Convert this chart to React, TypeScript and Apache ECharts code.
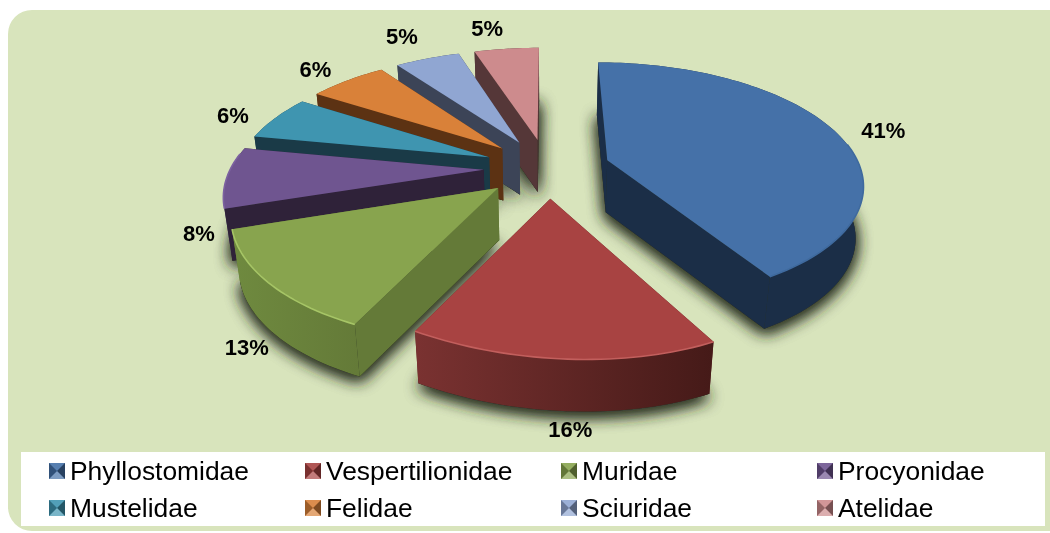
import React, { useEffect, useRef } from "react";
import * as echarts from "echarts";

const families = ["Phyllostomidae", "Vespertilionidae", "Muridae", "Procyonidae", "Mustelidae", "Felidae", "Sciuridae", "Atelidae"];
const shares = [41.4, 15.6, 13, 8, 6, 6, 5, 5];
const topColors = ["#4571a8", "#a84342", "#88a44e", "#6f5590", "#3f95b0", "#d98139", "#90a6d2", "#cd8b8d"];
const wallColors = ["#1b2e47", "#5a2221", "#647a38", "#2f2239", "#1a3a47", "#5c3213", "#3c4457", "#553738"];
const rimLeft = ["#1b2e47", "#7a3231", "#6f8a3f", "#43335f", "#1f4656", "#5c3213", "#3c4457", "#553738"];
const rimRight = ["#1b2e47", "#451a18", "#647a38", "#2f2239", "#1a3a47", "#5c3213", "#3c4457", "#553738"];
const edgeColors = ["#3f6a9e", "#c25f5d", "#a6c566", "#7c62a0", "#3f95b0", "#d98139", "#90a6d2", "#cd8b8d"];
const sliceShear = [0, 0.065, 0, 0, 0, 0, 0, 0];
const labelNudge = [[16, 4], [1, 8], [4, 8], [6, 10], [-11, 4], [-7, 1], [-10, -6], [-14, -3]];
const legendColumns = [49, 305, 561, 817];
const legendRows = [458, 495];

const FONT = "'Liberation Sans', Arial, sans-serif";
const CX = 547, CY = 168, RX = 253, RY = 118, P = 0.18, EXPLODE = 0.25, DEPTH = 52, SHRINK = 0.975;
const rad = (d: number) => (d * Math.PI) / 180;
const project = (u: number, v: number): [number, number] => {
  const w = 1 / (1 + P * v);
  return [CX + RX * u * w, CY - RY * v * w];
};
const lower = (p: [number, number]): [number, number] => [CX + (p[0] - CX) * SHRINK, p[1] + DEPTH];

const total = shares.reduce((a, b) => a + b, 0);
let running = 0;
const slices = shares.map((s, i) => {
  const a0 = (running / total) * 360;
  running += s;
  const a1 = (running / total) * 360;
  const mid = (a0 + a1) / 2;
  const ou = EXPLODE * Math.sin(rad(mid));
  const ov = EXPLODE * Math.cos(rad(mid));
  const tip = project(ou, ov);
  const arc: [number, number][] = [];
  const n = Math.max(8, Math.ceil((a1 - a0) / 1.5));
  const ang: number[] = [];
  for (let k = 0; k <= n; k++) {
    const a = a0 + ((a1 - a0) * k) / n;
    ang.push(a);
    const p = project(ou + Math.sin(rad(a)), ov + Math.cos(rad(a)));
    arc.push([p[0], p[1] + (p[0] - tip[0]) * sliceShear[i]]);
  }
  const mp = project(ou + Math.sin(rad(mid)), ov + Math.cos(rad(mid)));
  const c = Math.cos(rad(mid));
  const label: [number, number] = [
    mp[0] + 34 * Math.sin(rad(mid)) + labelNudge[i][0],
    mp[1] - 18 * c + (c < 0 ? 53 * 0.85 : 0) + labelNudge[i][1],
  ];
  return { i, mid, tip, arc, ang, label };
});

const poly = (points: [number, number][], fill: any, extra: any = {}) => ({
  type: "polygon",
  shape: { points },
  style: { fill, stroke: "none", ...extra },
});

function renderSlice(index: number) {
  const s = slices[index];
  const tipB = lower(s.tip);
  const arcB = s.arc.map(lower);
  const walls: { y: number; el: any }[] = [];
  const first = s.arc[0], last = s.arc[s.arc.length - 1];
  const addWall = (pts: [number, number][], fill: any) => {
    walls.push({ y: pts.reduce((a, p) => a + p[1], 0) / pts.length, el: poly(pts, fill) });
  };
  addWall([s.tip, first, arcB[0], tipB], wallColors[index]);
  addWall([s.tip, last, arcB[arcB.length - 1], tipB], wallColors[index]);
  const rimGrad = {
    type: "linear", x: 0, y: 0, x2: 1, y2: 0,
    colorStops: [{ offset: 0, color: rimLeft[index] }, { offset: 1, color: rimRight[index] }],
  };
  addWall([...s.arc, ...arcB.slice().reverse()], rimGrad);
  walls.sort((a, b) => a.y - b.y);
  const edge = s.arc.filter((_, k) => Math.cos(rad(s.ang[k])) < 0.15);
  const children: any[] = walls.map((w) => w.el);
  children.push(poly([s.tip, ...s.arc], topColors[index]));
  if (edge.length > 1) {
    children.push({
      type: "polyline",
      shape: { points: edge },
      style: { fill: "none", stroke: edgeColors[index], lineWidth: 1.6 },
    });
  }
  return { type: "group", children };
}

function renderShadow(index: number) {
  const s = slices[index];
  const pts = [lower(s.tip), ...s.arc.map(lower)];
  const shadow = { shadowBlur: 16, shadowColor: "#2c3020", shadowOffsetY: 4 };
  return {
    type: "group",
    children: [poly(pts, "#2c3020", shadow), poly(pts, "#2c3020", shadow)],
  };
}

function renderLabel(index: number) {
  const s = slices[index];
  return {
    type: "text",
    x: s.label[0],
    y: s.label[1],
    style: {
      text: Math.round(shares[index]) + "%",
      fill: "#000",
      fontFamily: FONT,
      fontWeight: "bold",
      fontSize: 22,
      align: "center",
      verticalAlign: "middle",
    },
  };
}

const legendPos = (i: number) => ({ x: legendColumns[i % 4], y: legendRows[Math.floor(i / 4)] });

function bevel(i: number) {
  const { x, y } = legendPos(i);
  const S = 16;
  const top = y + 5;
  const a: [number, number] = [x, top], b: [number, number] = [x + S, top], c: [number, number] = [x + S, top + S], d: [number, number] = [x, top + S];
  const m: [number, number] = [x + S / 2, top + S / 2];
  const tri = (p: any[], fill: string) => ({ type: "polygon", shape: { points: p }, style: { fill }, z: 12 });
  return [
    tri([a, b, m], "rgba(255,255,255,0.1)"),
    tri([b, c, m], "rgba(0,0,0,0.42)"),
    tri([c, d, m], "rgba(255,255,255,0.3)"),
    tri([d, a, m], "rgba(0,0,0,0.28)"),
  ];
}

export default function App() {
  const ref = useRef<HTMLDivElement>(null);
  useEffect(() => {
    const chart = echarts.init(ref.current!, undefined, { renderer: "svg" });
    chart.setOption({
      animation: false,
      graphic: [
        { type: "rect", z: 0, shape: { x: 8, y: 10, width: 1060, height: 521, r: [24, 0, 0, 24] }, style: { fill: "#d8e4bc" } },
        { type: "rect", z: 0, shape: { x: 21, y: 452, width: 1024, height: 74 }, style: { fill: "#ffffff" } },
        ...families.flatMap((_, i) => bevel(i)),
      ],
      legend: families.map((name, i) => {
        const p = legendPos(i);
        return {
          left: p.x,
          top: p.y,
          padding: 0,
          itemWidth: 16,
          itemHeight: 16,
          selectedMode: false,
          data: [{ name, icon: "rect", itemStyle: { color: topColors[i] } }],
          textStyle: { fontFamily: FONT, fontSize: 26.4, color: "#000" },
        };
      }),
      series: [
        {
          type: "custom",
          name: "shadow",
          coordinateSystem: "none",
          z: 1,
          silent: true,
          data: shares.map((v) => [v]),
          renderItem: (p: any) => renderShadow(p.dataIndex),
        },
        ...families.map((name, i) => ({
          type: "custom",
          name,
          coordinateSystem: "none",
          z: 12 - i,
          silent: true,
          itemStyle: { color: topColors[i] },
          data: [[shares[i]]],
          renderItem: () => renderSlice(i),
        })),
        {
          type: "custom",
          name: "labels",
          coordinateSystem: "none",
          z: 20,
          silent: true,
          data: shares.map((v) => [v]),
          renderItem: (p: any) => renderLabel(p.dataIndex),
        },
      ],
    });
    return () => chart.dispose();
  }, []);
  return <div ref={ref} style={{ position: "fixed", left: 0, top: 0, width: 1050, height: 533 }} />;
}
